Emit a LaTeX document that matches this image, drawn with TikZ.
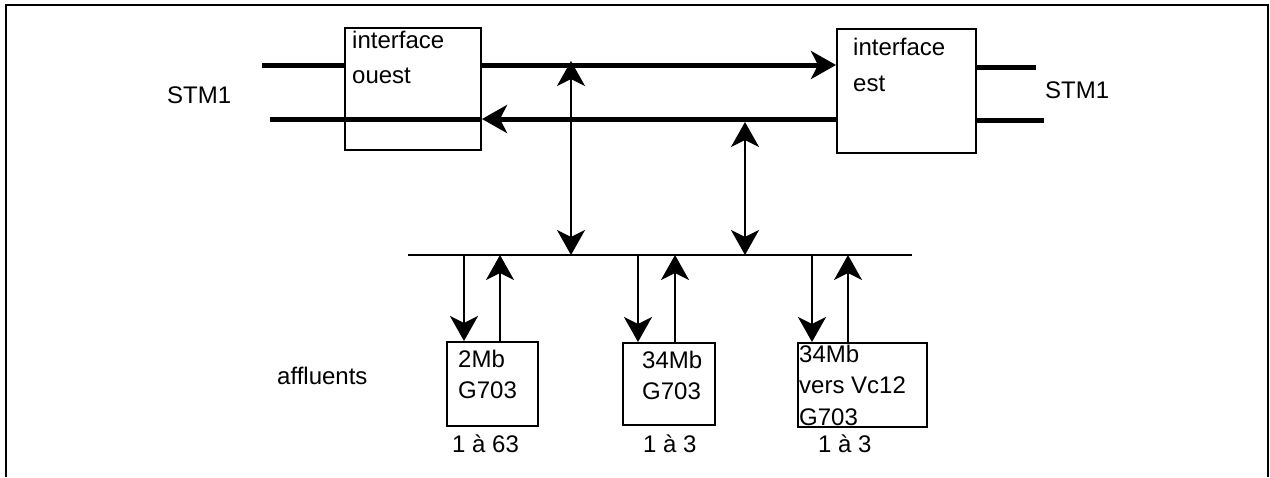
\documentclass[tikz,border=0pt]{standalone}
\usepackage{fontspec}
\setmainfont{Liberation Sans}
\usetikzlibrary{arrows.meta}

\begin{document}
\begin{tikzpicture}[x=1pt,y=-1pt,
    box/.style={draw,line width=2pt,rectangle,inner sep=0pt},
    txt/.style={inner sep=0pt,align=left,font=\fontsize{24}{31.5}\selectfont},
    thickline/.style={line width=5pt},
    thinline/.style={line width=2pt},
    tip/.style={-{Stealth[length=25pt,width=28pt,inset=7pt]}},
    dbltip/.style={{Stealth[length=25pt,width=28pt,inset=7pt]}-{Stealth[length=25pt,width=28pt,inset=7pt]}}]
  \useasboundingbox (0,0) rectangle (1270,477);

  % cadre
  \draw[line width=1.5pt] (6,477) -- (6,5) -- (1268,5) -- (1268,477);

  % interfaces
  \node[box,minimum width=136pt,minimum height=122pt](ouest) at (413,89){};
  \node[box,minimum width=139pt,minimum height=124pt](est) at (906.5,91){};
  \node[txt,anchor=north west,font=\fontsize{24}{35}\selectfont] at (352,30.5){interface\\ouest};
  \node[txt,anchor=north west,font=\fontsize{24}{36}\selectfont] at (853,37.5){interface\\est};

  \node[txt,anchor=base west](stmw) at (167,103){STM1};
  \node[txt,anchor=base west](stme) at (1045,98){STM1};

  % lignes STM1
  \coordinate (wtop) at (262,65);
  \coordinate (wbot) at (270,119);
  \coordinate (etop) at (1036,67);
  \coordinate (ebot) at (1044,120);
  \draw[thickline] (wtop) -- (wtop -| ouest.west);
  \draw[thickline,tip] (wtop -| ouest.east) -- (wtop -| est.west);
  \draw[thickline] (etop -| est.east) -- (etop);
  \draw[thickline] (wbot) -- (wbot -| ouest.east);
  \draw[thickline,tip] (wbot -| est.west) -- (wbot -| ouest.east);
  \draw[thickline] (ebot -| est.east) -- (ebot);

  % bus
  \coordinate (busw) at (408,255);
  \coordinate (buse) at (912,255);
  \draw[thinline] (busw) -- (buse);

  \coordinate (v1) at (571,61);
  \coordinate (v2) at (745,122);
  \draw[thinline,dbltip] (v1) -- (v1 |- busw);
  \draw[thinline,dbltip] (v2) -- (v2 |- busw);

  % affluents
  \node[box,minimum width=91pt,minimum height=84pt](m2) at (492.5,384){};
  \node[box,minimum width=92pt,minimum height=82pt](m34) at (669,384){};
  \node[box,minimum width=129pt,minimum height=84pt](vc12) at (862.5,385){};

  \node[txt,anchor=north west] at (458,349.5){2Mb\\G703};
  \node[txt,anchor=north west] at (642,350.5){34Mb\\G703};
  \node[txt,anchor=north west] at (799,344.5){34Mb\\vers Vc12\\G703};

  \node[txt,anchor=base west] at (452,452){1 à 63};
  \node[txt,anchor=base west] at (643,452){1 à 3};
  \node[txt,anchor=base west] at (818,452){1 à 3};
  \node[txt,anchor=base west] at (277,384){affluents};

  \foreach \d/\u/\m in {464/500/m2, 638/675/m34, 812/848/vc12}{
    \draw[thinline,tip] (\d,255) -- (\d,255 |- \m.north);
    \draw[thinline,tip] (\u,255 |- \m.north) -- (\u,255);
  }
\end{tikzpicture}
\end{document}
